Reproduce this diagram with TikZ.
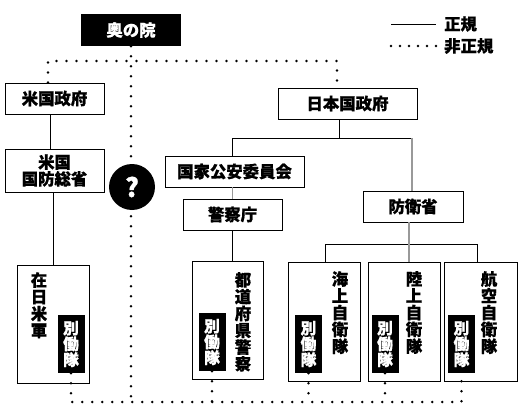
\documentclass[tikz,border=0pt]{standalone}
\usepackage{fontspec}
\setmainfont{Noto Sans CJK JP}[BoldFeatures={FakeBold=0.6}]
\definecolor{linegray}{HTML}{999999}
\begin{document}
\begin{tikzpicture}[x=1pt,y=-1pt,
  jpfont/.style={font=\bfseries\fontsize{16.4}{16.8}\selectfont},
  box/.style={draw, line width=0.9pt, inner sep=0pt, jpfont, align=center},
  vtext/.style={jpfont, align=center, inner sep=0pt, anchor=north},
  bdt/.style={fill=black, text=white, minimum width=27pt, minimum height=58pt, inner sep=0pt, align=center, font=\bfseries\fontsize{15.8}{15.8}\selectfont},
  dotline/.style={line width=2.8pt, line cap=round, dash pattern=on 0pt off 10pt},
  legdot/.style={line width=2.6pt, line cap=round, dash pattern=on 0pt off 9pt},
  conn/.style={line width=0.9pt},
  gconn/.style={line width=1.4pt, linegray}]
\fill[white] (0,0) rectangle (520,420);
\useasboundingbox (0,0) rectangle (520,420);

% top box
\node[fill=black, text=white, minimum width=100pt, minimum height=32pt, inner sep=0pt, jpfont] (oku) at (131,30) {奥の院};

% US side
\node[box, minimum width=99pt, minimum height=31pt] (beigov) at (54.5,98.5) {米国政府};
\node[box, minimum width=99pt, minimum height=43pt] (beidod) at (54.5,170.5) {米国\\国防総省};
\node[box, minimum width=72pt, minimum height=118pt] (zainichi) at (53,324) {};
\node[vtext] (zt) at (39,272) {在\\日\\米\\軍};
\node[bdt] (bd1) at (71,344) {別\\働\\隊};

% Japan side
\node[box, minimum width=139pt, minimum height=31pt] (nihon) at (347.5,103.5) {日本国政府};
\node[box, minimum width=139pt, minimum height=31pt] (kokka) at (234.5,171.5) {国家公安委員会};
\node[box, minimum width=99pt, minimum height=31pt] (keisatsu) at (232.5,214.5) {警察庁};
\node[box, minimum width=71pt, minimum height=118pt] (todo) at (227.5,320) {};
\node[vtext] (tt) at (243,272) {都\\道\\府\\県\\警\\察};
\node[bdt] (bd2) at (212,342) {別\\働\\隊};

\node[box, minimum width=100pt, minimum height=31pt] (boei) at (413,206.5) {防衛省};
\node[box, minimum width=72pt, minimum height=119pt] (kaijo) at (324,321.5) {};
\node[vtext] (kt) at (340,271) {海\\上\\自\\衛\\隊};
\node[bdt] (bd3) at (308.5,344) {別\\働\\隊};
\node[box, minimum width=72pt, minimum height=119pt] (riku) at (404,321.5) {};
\node[vtext] (rt) at (414,271) {陸\\上\\自\\衛\\隊};
\node[bdt] (bd4) at (385,344) {別\\働\\隊};
\node[box, minimum width=73pt, minimum height=119pt] (koku) at (480.5,321.5) {};
\node[vtext] (ct) at (489,271) {航\\空\\自\\衛\\隊};
\node[bdt] (bd5) at (461.5,344) {別\\働\\隊};

% coordinates
\coordinate (tl) at (48,61);
\coordinate (tr) at (337,61);
\coordinate (bot) at (131,402);
\coordinate (nj) at (339,138);
\coordinate (bl) at (232,138);
\coordinate (br) at (412,138);
\coordinate (sl) at (325,244);
\coordinate (sr) at (477,244);
\coordinate (sm) at (409,244);

% dotted (irregular) links
\draw[dotline] (tl |- beigov.north) -- (tl) -- (tr) -- (tr |- nihon.north);
\draw[dotline] (oku.south) -- (bot);
\draw[dotline] (bd1.south) -- (bd1.south |- bot) -- (bd5.south |- bot) -- (bd5.south);
\draw[dotline] (bd2.south) -- (bd2.south |- bot);
\draw[dotline] (bd3.south) -- (bd3.south |- bot);
\draw[dotline] (bd4.south) -- (bd4.south |- bot);

% question circle on top of the dotted line
\node[circle, fill=black, text=white, minimum size=46pt, inner sep=0pt, font=\bfseries\fontsize{26}{26}\selectfont] (q) at (132,187) {?};

% solid links
\draw[conn] ([xshift=-4pt]beigov.south) -- ([xshift=-4pt]beidod.north);
\draw[conn] (zainichi.north |- beidod.south) -- (zainichi.north);
\draw[conn] (nj |- nihon.south) -- (nj);
\draw[conn] (bl |- kokka.north) -- (bl) -- (br);
\draw[conn] (keisatsu.south) -- (keisatsu.south |- todo.north);
\draw[conn] (sl |- kaijo.north) -- (sl) -- (sr) -- (sr |- koku.north);
\draw[gconn] (br) -- (br |- boei.north);
\draw[gconn] (kokka.south -| keisatsu.north) -- (keisatsu.north);
\draw[gconn] (sm |- boei.south) -- (sm |- riku.north);

% legend
\coordinate (l1a) at (391,24);
\coordinate (l1b) at (436,24);
\coordinate (l2a) at (391,46);
\coordinate (l2b) at (436,46);
\draw[conn] (l1a) -- (l1b);
\draw[legdot] (l2a) -- (l2b);
\node[jpfont, anchor=west, inner sep=0pt] (lg1) at (444,24) {正規};
\node[jpfont, anchor=west, inner sep=0pt] (lg2) at (444,46) {非正規};
\end{tikzpicture}
\end{document}
